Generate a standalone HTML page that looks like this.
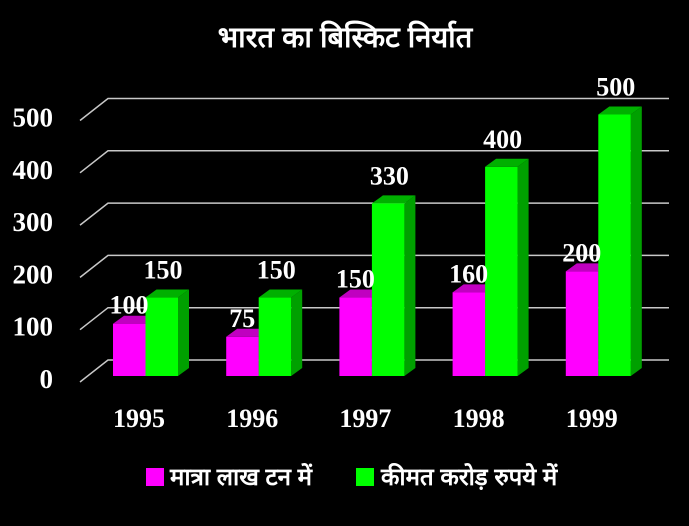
<!DOCTYPE html>
<html><head><meta charset="utf-8"><style>
body{margin:0;background:#000;width:689px;height:521px;overflow:hidden}
text{font-family:"Liberation Serif","Noto Serif CJK SC",serif;fill:#fff}
.h{font-family:"Liberation Sans","Noto Sans CJK SC",sans-serif;font-weight:bold}
</style></head><body>
<svg width="689" height="521">
<text x="345" y="47" text-anchor="middle" class="h" font-size="29">भारत का बिस्किट निर्यात</text>
<g id="grid"></g><g id="bars"></g>
<rect x="146" y="468" width="18" height="18" fill="#ff00ff"/>
<text x="170" y="485" class="h" font-size="24">मात्रा लाख टन में</text>
<rect x="356" y="468" width="18" height="18" fill="#00ff00"/>
<text x="381" y="485" class="h" font-size="24">कीमत करोड़ रुपये में</text>
</svg>
<script>
const categories=["1995","1996","1997","1998","1999"];
const quantity=[100,75,150,160,200];
const value=[150,150,330,400,500];
const ticks=[0,100,200,300,400,500];
const NS="http://www.w3.org/2000/svg";
const k=0.523;
function yF(v){return 376-k*v;}
function yB(v){return 360-k*v;}
function mk(t,a,p){const e=document.createElementNS(NS,t);for(const n in a)e.setAttribute(n,a[n]);p.appendChild(e);return e;}
const g=document.getElementById('grid'),b=document.getElementById('bars');
ticks.forEach(t=>{
 const y=yB(t);
 const l=mk('polyline',{points:`80,${y+22} 108,${y} 669,${y}`,fill:'none',stroke:'#c8c8c8','stroke-width':1.5},g);
 
 
 const tx=mk('text',{x:53,y:y+28,'text-anchor':'end','font-size':27,'font-weight':'bold'},g);
 tx.textContent=t;
 
 
});
function bar(x,v,front,top,side,name){
 const w=32.5,dx=11,dy=8,yt=yF(v);
 const gg=mk('g',{},b);
 
 
 mk('polygon',{points:`${x+w},${yt} ${x+w+dx},${yt-dy} ${x+w+dx},${376-dy} ${x+w},376`,fill:side},gg);
 mk('polygon',{points:`${x},${yt} ${x+dx},${yt-dy} ${x+w+dx},${yt-dy} ${x+w},${yt}`,fill:top},gg);
 mk('rect',{x:x,y:yt,width:w,height:376-yt,fill:front},gg);
}
categories.forEach((c,i)=>{
 const x0=113+i*113.2;
 bar(x0,quantity[i],'#ff00ff','#c000c0','#c000c0','bar-quantity-'+c);
 bar(x0+32.5,value[i],'#00ff00','#00b000','#00a000','bar-value-'+c);
 const l1=mk('text',{x:x0+16,y:yF(quantity[i])-10,'text-anchor':'middle','font-size':26,'font-weight':'bold'},b);
 l1.textContent=quantity[i];
 
 
 const l2=mk('text',{x:x0+50,y:yF(value[i])-19,'text-anchor':'middle','font-size':26,'font-weight':'bold'},b);
 l2.textContent=value[i];
 
 
 const cl=mk('text',{x:x0+26,y:427,'text-anchor':'middle','font-size':26,'font-weight':'bold'},b);
 cl.textContent=c;
 
 
});
</script>
</body></html>
